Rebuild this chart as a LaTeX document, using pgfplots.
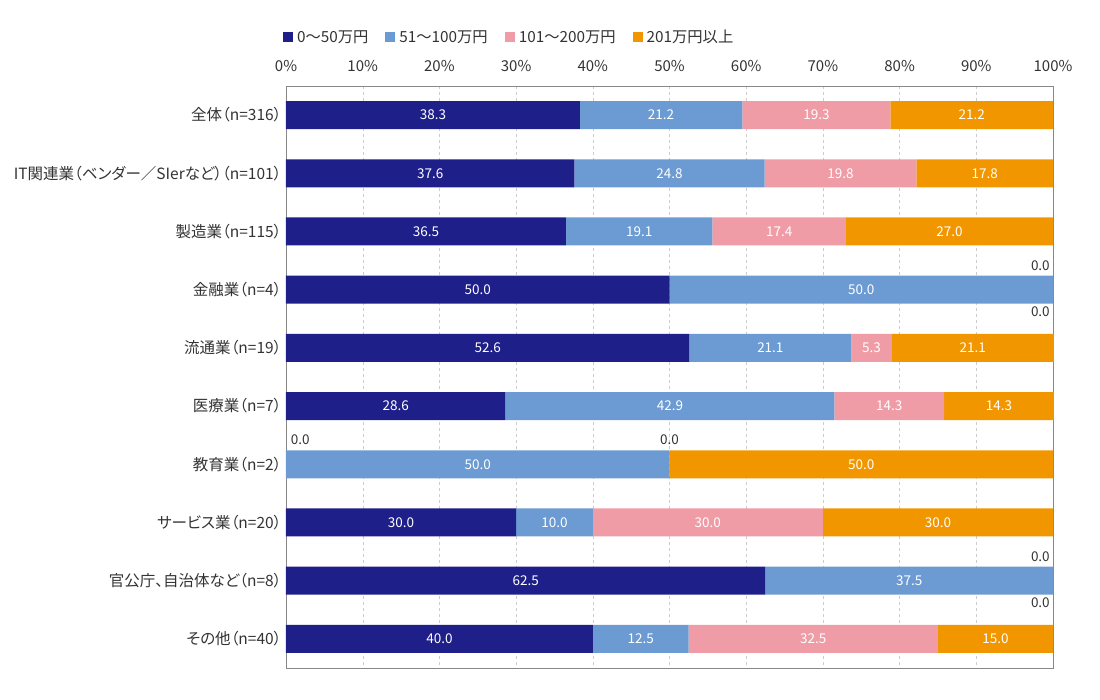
\documentclass[border=0pt]{standalone}
\usepackage{fontspec}
\setmainfont{Noto Sans CJK JP}[RawFeature=+palt]
\usepackage{pgfplots}
\usepackage{pgfplotstable}
\pgfplotsset{compat=1.18}
\definecolor{cA}{HTML}{1F1F8A}
\definecolor{cB}{HTML}{6B9BD2}
\definecolor{cC}{HTML}{F09CA6}
\definecolor{cD}{HTML}{F29600}
\definecolor{axgray}{HTML}{888888}
\definecolor{txt}{HTML}{333333}
\tikzset{zlab/.style={text=txt, font=\fontsize{13.5}{15}\selectfont, inner sep=0pt}}
\pgfplotstableread{
row a b c d
0 38.3 21.2 19.3 21.2
1 37.6 24.8 19.8 17.8
2 36.5 19.1 17.4 27.0
3 50.0 50.0 0 0
4 52.6 21.1 5.3 21.1
5 28.6 42.9 14.3 14.3
6 0 50.0 0 50.0
7 30.0 10.0 30.0 30.0
8 62.5 37.5 0 0
9 40.0 12.5 32.5 15.0
}\datatable
\newcommand\nzlabel{\pgfmathfloattofixed{\pgfplotspointmeta}\ifdim\pgfmathresult pt>0.001pt \pgfmathprintnumber[fixed,fixed zerofill,precision=1]{\pgfplotspointmeta}\fi}
\begin{document}
\begin{tikzpicture}[x=1pt,y=1pt]
\useasboundingbox (0,0) rectangle (1100,700);
\begin{axis}[
  at={(286pt,32pt)}, anchor=south west,
  scale only axis, width=767pt, height=582pt,
  xbar stacked, bar width=28pt,
  xmin=0, xmax=100, ymin=-0.5, ymax=9.5, y dir=reverse,
  axis line style={axgray},
  xtick={0,10,...,100}, xticklabel={\pgfmathprintnumber{\tick}\%},
  xticklabel pos=top, x tick label style={font=\fontsize{15}{17}\selectfont, text=txt, yshift=11pt},
  major tick length=0pt,
  xmajorgrids, grid style={dashed, gray!40},
  ytick={0,...,9},
  yticklabels={全体（n=316）,IT関連業（ベンダー／SIerなど）（n=101）,製造業（n=115）,金融業（n=4）,流通業（n=19）,医療業（n=7）,教育業（n=2）,サービス業（n=20）,官公庁、自治体など（n=8）,その他（n=40）},
  y tick label style={font=\fontsize{15.5}{17}\selectfont, text=txt, xshift=-1pt},
  /pgf/number format/assume math mode=true,
  legend style={at={(-0.008,1.084)}, anchor=west, draw=none, font=\fontsize{15.3}{17}\selectfont, text=txt, legend columns=4, /tikz/every even column/.append style={column sep=15pt}, /tikz/every odd column/.append style={column sep=2pt}},
  legend image code/.code={\fill[#1] (0pt,-5pt) rectangle (10pt,5pt);},
  nodes near coords={\nzlabel},
  every node near coord/.append style={text=white, font=\fontsize{13.5}{15}\selectfont},
  clip=false,
]
\addplot[fill=cA, draw=none, point meta=\thisrow{a}] table[x=a,y=row]{\datatable};
\addplot[fill=cB, draw=none, point meta=\thisrow{b}] table[x=b,y=row]{\datatable};
\addplot[fill=cC, draw=none, point meta=\thisrow{c}] table[x=c,y=row]{\datatable};
\addplot[fill=cD, draw=none, point meta=\thisrow{d}] table[x=d,y=row]{\datatable};
\legend{0〜50万円,51〜100万円,101〜200万円,201万円以上}
\node[zlab, anchor=east, yshift=24pt] at (axis cs:99.6,3) {0.0};
\node[zlab, anchor=east, yshift=-22pt] at (axis cs:99.6,3) {0.0};
\node[zlab, anchor=west, yshift=25pt] at (axis cs:0.6,6) {0.0};
\node[zlab, anchor=center, yshift=25pt] at (axis cs:50,6) {0.0};
\node[zlab, anchor=east, yshift=24pt] at (axis cs:99.6,8) {0.0};
\node[zlab, anchor=east, yshift=-22pt] at (axis cs:99.6,8) {0.0};
\end{axis}
\end{tikzpicture}
\end{document}
